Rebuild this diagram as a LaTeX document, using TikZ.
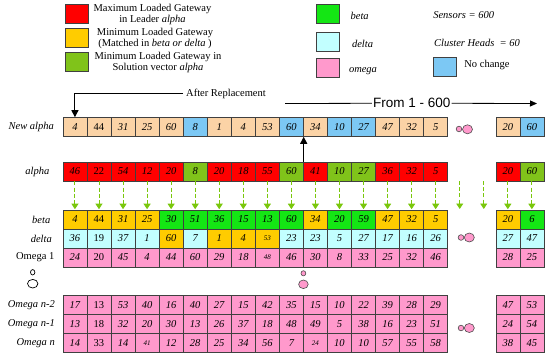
\documentclass[tikz,border=0pt]{standalone}
\usepackage{fontspec}
\setmainfont{Liberation Serif}
\newfontfamily\arialfont{Liberation Sans}
\usetikzlibrary{arrows.meta}
\definecolor{pc}{HTML}{FBD3A6}
\definecolor{nc}{HTML}{7CC8F4}
\definecolor{rd}{HTML}{FF0000}
\definecolor{ol}{HTML}{80C31A}
\definecolor{yl}{HTML}{FFCC00}
\definecolor{gn}{HTML}{14E614}
\definecolor{cy}{HTML}{C2FFFF}
\definecolor{pk}{HTML}{FF99CC}
\definecolor{ag}{HTML}{7AC70C}
\newcommand\sm[1]{{\fontsize{7}{8}\selectfont #1}}
\begin{document}
\begin{tikzpicture}[x=1pt, y=-1pt,
  cell/.style={draw=black!75, line width=0.6pt, minimum width=24.05pt, minimum height=19pt, inner sep=0pt, font=\fontsize{10.5}{12}\selectfont\itshape},
  rowlab/.style={anchor=east, inner sep=0pt, font=\fontsize{10.5}{12}\selectfont\itshape},
  legbox/.style={draw=black!75, line width=0.6pt, minimum width=23pt, minimum height=19pt, inner sep=0pt},
  legtext/.style={align=center, inner sep=0pt, font=\fontsize{10.5}{11}\selectfont},
  greenarr/.style={draw=ag, line width=0.9pt, dash pattern=on 4pt off 2.2pt, -{Triangle[length=5.5pt,width=7pt]}, shorten >=0.5pt},
  blackarr/.style={line width=1.1pt, -{Triangle[length=7pt,width=7pt]}},
  dotpink/.style={draw=black!70, line width=0.6pt, fill=pk},
  dotwhite/.style={draw=black, line width=0.7pt, fill=white}]
  \useasboundingbox (0,0) rectangle (550,356);
  % Legende links
  \node[legbox, fill=rd] (kmax) at (76.5,14) {};
  \node[legtext] (tmax) at (152.5,14.5) {Maximum Loaded Gateway\\in Leader \textit{alpha}};
  \node[legbox, fill=yl] (kmin) at (76.5,37.8) {};
  \node[legtext] (tmin) at (155,38) {Minimum Loaded Gateway\\(Matched in \textit{beta or delta} )};
  \node[legbox, fill=ol] (ksol) at (76.5,62) {};
  \node[legtext] (tsol) at (158,62.5) {Minimum Loaded Gateway in\\Solution vector \textit{alpha}};
  % Legende rechts
  \node[legbox, fill=gn] (kbeta) at (327.5,13.7) {};
  \node[legtext, font=\fontsize{10.5}{11}\selectfont\itshape] (tbeta) at (359.7,15.7) {beta};
  \node[legbox, fill=cy] (kdelta) at (327.5,42) {};
  \node[legtext, font=\fontsize{10.5}{11}\selectfont\itshape] (tdelta) at (362.5,44.3) {delta};
  \node[legbox, fill=pk] (komega) at (327.5,67.8) {};
  \node[legtext, font=\fontsize{10.5}{11}\selectfont\itshape] (tomega) at (363,70.7) {omega};
  \node[legtext, font=\fontsize{10.5}{11}\selectfont\itshape] (tsens) at (463.7,15.3) {Sensors = 600};
  \node[legtext, font=\fontsize{10.5}{11}\selectfont\itshape] (tch) at (477,42.7) {Cluster Heads \ = 60};
  \node[legbox, fill=nc] (knc) at (444.5,66.7) {};
  \node[legtext] (tnc) at (487,65) {No change};
  % Zeilenkoepfe
  \node[rowlab] (lna) at (54,127) {New alpha};
  \node[rowlab] (lal) at (49.5,171.5) {alpha};
  \node[rowlab] (lbe) at (50.5,219.5) {beta};
  \node[rowlab] (lde) at (52,238.5) {delta};
  \node[rowlab, font=\fontsize{10.5}{12}\selectfont] (lom) at (54.5,257.5) {Omega 1};
  \node[rowlab] (loa) at (55,305) {Omega n-2};
  \node[rowlab] (lob) at (55,324) {Omega n-1};
  \node[rowlab] (loc) at (55,343) {Omega n};
  \begin{scope}[xshift=74.93pt, x=24.05pt]
    % New alpha
    \foreach \v/\f [count=\i from 0] in {4/pc,{\textup{44}}/pc,31/pc,25/pc,60/pc,8/nc,1/pc,4/pc,53/pc,60/nc,34/pc,10/nc,27/nc,47/pc,32/pc,5/pc}
      {\node[cell, fill=\f] (na\i) at (\i,127) {\v};}
    \foreach \v/\f [count=\i from 18] in {20/pc,60/nc} {\node[cell, fill=\f] (na\i) at (\i,127) {\v};}
    % alpha
    \foreach \v/\f [count=\i from 0] in {46/rd,{\textup{22}}/rd,54/rd,12/rd,20/rd,8/ol,20/rd,18/rd,55/rd,60/ol,41/rd,10/ol,27/ol,36/rd,32/rd,5/rd}
      {\node[cell, fill=\f] (al\i) at (\i,171.5) {\v};}
    \foreach \v/\f [count=\i from 18] in {20/rd,60/ol} {\node[cell, fill=\f] (al\i) at (\i,171.5) {\v};}
    % beta
    \foreach \v/\f [count=\i from 0] in {4/yl,{\textup{44}}/yl,31/yl,25/yl,30/gn,51/gn,36/gn,15/gn,13/gn,60/gn,34/yl,20/gn,59/gn,47/yl,32/yl,5/yl}
      {\node[cell, fill=\f] (be\i) at (\i,219.5) {\v};}
    \foreach \v/\f [count=\i from 18] in {20/yl,6/gn} {\node[cell, fill=\f] (be\i) at (\i,219.5) {\v};}
    % delta
    \foreach \v/\f [count=\i from 0] in {36/cy,{\textup{19}}/cy,37/cy,1/cy,60/yl,7/cy,1/yl,4/yl,{\sm{53}}/yl,23/cy,23/cy,5/cy,27/cy,17/cy,16/cy,26/cy}
      {\node[cell, fill=\f] (de\i) at (\i,238.5) {\v};}
    \foreach \v/\f [count=\i from 18] in {27/cy,47/cy} {\node[cell, fill=\f] (de\i) at (\i,238.5) {\v};}
    % Omega 1
    \foreach \v [count=\i from 0] in {24,{\textup{20}},45,4,44,60,29,18,{\sm{48}},46,30,8,33,25,32,46}
      {\node[cell, fill=pk] (om\i) at (\i,257.5) {\v};}
    \foreach \v [count=\i from 18] in {28,25} {\node[cell, fill=pk] (om\i) at (\i,257.5) {\v};}
    % Omega n-2, n-1, n
    \foreach \v [count=\i from 0] in {17,{\textup{13}},53,40,16,40,27,15,42,35,15,10,22,39,28,29}
      {\node[cell, fill=pk] (oa\i) at (\i,305) {\v};}
    \foreach \v [count=\i from 18] in {47,53} {\node[cell, fill=pk] (oa\i) at (\i,305) {\v};}
    \foreach \v [count=\i from 0] in {13,{\textup{18}},32,20,30,13,26,37,18,48,49,5,38,16,23,51}
      {\node[cell, fill=pk] (ob\i) at (\i,324) {\v};}
    \foreach \v [count=\i from 18] in {24,54} {\node[cell, fill=pk] (ob\i) at (\i,324) {\v};}
    \foreach \v [count=\i from 0] in {14,{\textup{33}},14,{\sm{41}},12,28,25,34,56,7,{\sm{24}},10,10,57,55,58}
      {\node[cell, fill=pk] (oc\i) at (\i,343) {\v};}
    \foreach \v [count=\i from 18] in {38,45} {\node[cell, fill=pk] (oc\i) at (\i,343) {\v};}
    % leere Spalten 16, 17
    \foreach \i in {16,17} {\coordinate (gt\i) at (\i,181); \coordinate (gb\i) at (\i,209.5);}
  \end{scope}
  % gruene Pfeile alpha -> beta
  \foreach \i in {0,...,15,18,19} {\draw[greenarr] (al\i.south) -- (be\i.north);}
  \foreach \i in {16,17} {\draw[greenarr] (gt\i) -- (gb\i);}
  % After Replacement
  \node[font=\fontsize{10.5}{12}\selectfont, inner sep=3pt] (rep) at (226,93.5) {After Replacement};
  \draw[blackarr] (rep.west) -| (na0.north);
  \draw[blackarr] (al9.north east) -- (na9.south east);
  % From 1 - 600
  \node[font=\arialfont\fontsize{13.5}{14}\selectfont, inner sep=1pt] (from) at (411.7,103.3) {From 1 - 600};
  \coordinate (fromL) at (285,103.5);
  \coordinate (fromR) at (537,103.5);
  \draw[line width=0.8pt] (fromL) -- (from.west);
  \draw[line width=0.8pt, -{Triangle[length=7pt,width=6pt]}] (from.east) -- (fromR);
  % Punkte
  \draw[dotpink] (459,129) circle[radius=2.8pt];
  \draw[dotpink] (467.5,129.3) circle[x radius=5pt, y radius=4.5pt];
  \draw[dotpink] (461,237.5) circle[radius=2.8pt];
  \draw[dotpink] (469.3,237.5) circle[x radius=5pt, y radius=4.5pt];
  \draw[dotpink] (461,328) circle[radius=2.8pt];
  \draw[dotpink] (469.3,328) circle[x radius=5pt, y radius=4.5pt];
  \draw[dotwhite] (32.7,272.3) circle[x radius=2.2pt, y radius=2.7pt];
  \draw[dotwhite] (32.7,283.7) circle[x radius=5.2pt, y radius=4.3pt];
  \draw[dotpink] (303.4,273.3) circle[x radius=2.4pt, y radius=2.6pt];
  \draw[dotpink] (303.4,284.3) circle[x radius=4.8pt, y radius=4.3pt];
\end{tikzpicture}
\end{document}
